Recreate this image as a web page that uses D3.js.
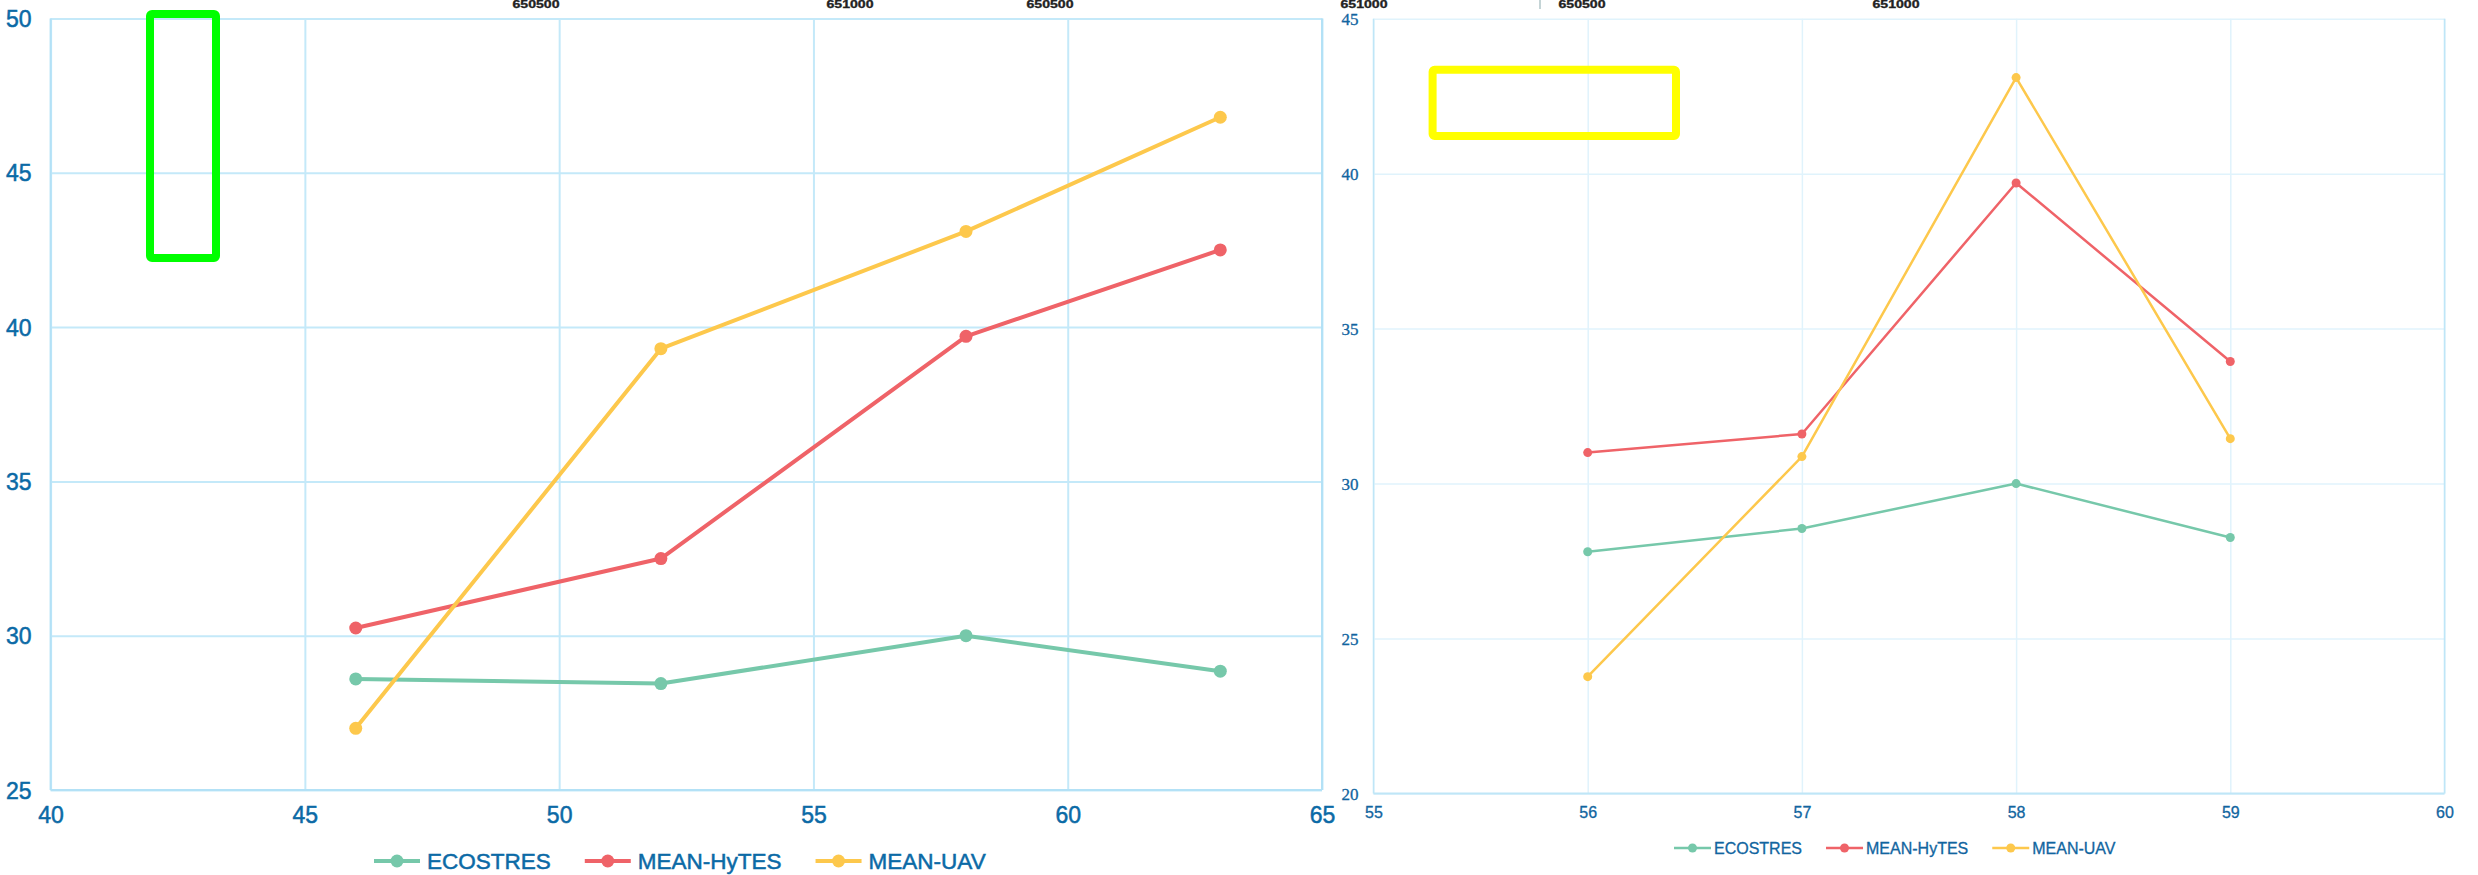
<!DOCTYPE html>
<html>
<head>
<meta charset="utf-8">
<script src="https://cdn.jsdelivr.net/npm/d3@7"></script>
<style>
  html, body { margin: 0; padding: 0; background: #ffffff; }
  svg { display: block; }
</style>
</head>
<body>
<svg id="chart" width="2478" height="875"></svg>
<script>
// ---- data ----
const seriesNames = ["ECOSTRES", "MEAN-HyTES", "MEAN-UAV"];
const seriesColors = ["#76c8aa", "#ef6368", "#fdc84c"];

// left panel
const leftX = [46, 52, 58, 63];
const leftEcostres = [28.6, 28.45, 30.0, 28.85];
const leftHytes = [30.25, 32.5, 39.7, 42.5];
const leftUav = [27.0, 39.3, 43.1, 46.8];
const leftXTicks = [40, 45, 50, 55, 60, 65];
const leftYTicks = [25, 30, 35, 40, 45, 50];

// right panel
const rightX = [56, 57, 58, 59];
const rightEcostres = [27.8, 28.55, 30.0, 28.26];
const rightHytes = [31.0, 31.6, 39.7, 33.94];
const rightUav = [23.77, 30.87, 43.1, 31.45];
const rightXTicks = [55, 56, 57, 58, 59, 60];
const rightYTicks = [20, 25, 30, 35, 40, 45];

// easting labels of the map strip along the top edge
const eastingLabels = [650500, 651000];

const svg = d3.select("#chart");
const intFmt = d3.format("d");

// ---- easting strip ----
const eastScale = d3.scaleLinear().domain([650500, 651000]).range([0, 314]);
const stripOrigins = [536, 1050, 1582];
stripOrigins.forEach(ox => {
  svg.append("g")
    .attr("transform", `translate(${ox},0)`)
    .selectAll("text")
    .data(eastingLabels)
    .join("text")
    .attr("x", d => eastScale(d))
    .attr("y", 7.6)
    .attr("text-anchor", "middle")
    .attr("textLength", 47)
    .attr("lengthAdjust", "spacingAndGlyphs")
    .style("font", "bold 10px 'Liberation Sans', Arial, sans-serif")
    .style("fill", "#222222")
    .style("stroke", "#222222")
    .style("stroke-width", 0.3)
    .text(d => d);
});
svg.append("line")
  .attr("x1", 1540).attr("x2", 1540).attr("y1", 0).attr("y2", 9)
  .attr("stroke", "#8aa9ad").attr("stroke-width", 1);

// ---- panel builder ----
function drawPanel(cfg) {
  const x = d3.scaleLinear().domain(cfg.xDomain).range([cfg.left, cfg.right]);
  const y = d3.scaleLinear().domain(cfg.yDomain).range([cfg.bottom, cfg.top]);
  const g = svg.append("g");

  // vertical grid
  g.append("g")
    .attr("transform", `translate(0,${cfg.bottom})`)
    .call(d3.axisBottom(x).tickValues(cfg.xTicks).tickSize(-(cfg.bottom - cfg.top)).tickFormat(""))
    .call(a => a.select(".domain").remove())
    .call(a => a.selectAll("line").attr("stroke", cfg.gridColor).attr("stroke-width", cfg.gridWidth));

  // horizontal grid
  g.append("g")
    .attr("transform", `translate(${cfg.left},0)`)
    .call(d3.axisLeft(y).tickValues(cfg.yTicks).tickSize(-(cfg.right - cfg.left)).tickFormat(""))
    .call(a => a.select(".domain").remove())
    .call(a => a.selectAll("line").attr("stroke", cfg.gridColor).attr("stroke-width", cfg.gridWidth));

  // frame edges
  g.append("line").attr("x1", cfg.left).attr("x2", cfg.right).attr("y1", cfg.bottom).attr("y2", cfg.bottom)
    .attr("stroke", cfg.axisColor).attr("stroke-width", 2);
  g.append("line").attr("x1", cfg.left).attr("x2", cfg.left).attr("y1", cfg.top).attr("y2", cfg.bottom)
    .attr("stroke", cfg.axisColor).attr("stroke-width", cfg.edgeWidth);
  g.append("line").attr("x1", cfg.right).attr("x2", cfg.right).attr("y1", cfg.top).attr("y2", cfg.bottom)
    .attr("stroke", cfg.axisColor).attr("stroke-width", cfg.edgeWidth);

  // y tick labels
  g.append("g")
    .attr("transform", `translate(${cfg.left},0)`)
    .call(d3.axisLeft(y).tickValues(cfg.yTicks).tickSize(0).tickPadding(cfg.yPad).tickFormat(intFmt))
    .call(a => a.select(".domain").remove())
    .call(a => a.selectAll("text")
      .attr("dy", "0.35em")
      .style("font", cfg.yFont)
      .style("fill", cfg.labelColor)
      .style("stroke", cfg.labelColor)
      .style("stroke-width", cfg.labelStroke));

  // x tick labels
  g.append("g")
    .attr("transform", `translate(0,${cfg.bottom})`)
    .call(d3.axisBottom(x).tickValues(cfg.xTicks).tickSize(0).tickFormat(intFmt))
    .call(a => a.select(".domain").remove())
    .call(a => a.selectAll("text")
      .attr("y", cfg.xLabelOffset)
      .attr("dy", "0.35em")
      .style("font", cfg.xFont)
      .style("fill", cfg.labelColor)
      .style("stroke", cfg.labelColor)
      .style("stroke-width", cfg.labelStroke));

  // series
  const line = d3.line().x(d => x(d[0])).y(d => y(d[1]));
  cfg.series.forEach((vals, i) => {
    const pts = cfg.xs.map((xv, k) => [xv, vals[k]]);
    g.append("path")
      .datum(pts)
      .attr("d", line)
      .attr("fill", "none")
      .attr("stroke", seriesColors[i])
      .attr("stroke-width", cfg.lineWidth)
      .attr("stroke-linejoin", "round");
    g.selectAll(null)
      .data(pts)
      .join("circle")
      .attr("cx", d => x(d[0]))
      .attr("cy", d => y(d[1]))
      .attr("r", cfg.markerR)
      .attr("fill", seriesColors[i]);
  });

  // legend
  const lg = g.append("g").attr("transform", `translate(0,${cfg.legendY})`);
  let cursor = cfg.legendX;
  seriesNames.forEach((name, i) => {
    lg.append("line")
      .attr("x1", cursor).attr("x2", cursor + cfg.legendLine)
      .attr("y1", 0).attr("y2", 0)
      .attr("stroke", seriesColors[i]).attr("stroke-width", cfg.lineWidth);
    lg.append("circle")
      .attr("cx", cursor + cfg.legendLine / 2).attr("cy", 0)
      .attr("r", cfg.markerR).attr("fill", seriesColors[i]);
    const t = lg.append("text")
      .attr("x", cursor + cfg.legendLine + cfg.legendTextGap)
      .attr("y", 0).attr("dy", "0.35em")
      .style("font", cfg.legendFont)
      .style("fill", cfg.labelColor)
      .style("stroke", cfg.labelColor)
      .style("stroke-width", cfg.labelStroke)
      .text(name);
    cursor += cfg.legendLine + cfg.legendTextGap + t.node().getComputedTextLength() + cfg.legendItemGap;
  });
}

drawPanel({
  xDomain: [40, 65], yDomain: [25, 50],
  left: 50.6, right: 1322, top: 18.5, bottom: 790,
  xTicks: leftXTicks, yTicks: leftYTicks,
  xs: leftX, series: [leftEcostres, leftHytes, leftUav],
  gridColor: "#c4e9f9", gridWidth: 2, axisColor: "#b3e1f6", edgeWidth: 2,
  labelColor: "#0b6aa6", labelStroke: 0.5,
  yFont: "23px 'Liberation Sans', Arial, sans-serif", yPad: 19,
  xFont: "23px 'Liberation Sans', Arial, sans-serif", xLabelOffset: 25,
  lineWidth: 4, markerR: 6.5,
  legendX: 374, legendY: 861, legendLine: 46, legendTextGap: 7, legendItemGap: 34,
  legendFont: "22.5px 'Liberation Sans', Arial, sans-serif"
});

drawPanel({
  xDomain: [55, 60], yDomain: [20, 45],
  left: 1373.5, right: 2444.5, top: 18.7, bottom: 793.5,
  xTicks: rightXTicks, yTicks: rightYTicks,
  xs: rightX, series: [rightEcostres, rightHytes, rightUav],
  gridColor: "#e0f3fc", gridWidth: 1.5, axisColor: "#bfe6f7", edgeWidth: 1.5,
  labelColor: "#11659f", labelStroke: 0.3,
  yFont: "17px 'Liberation Serif', 'Times New Roman', serif", yPad: 15,
  xFont: "16px 'Liberation Sans', Arial, sans-serif", xLabelOffset: 19,
  lineWidth: 2.5, markerR: 4.5,
  legendX: 1674, legendY: 848, legendLine: 37, legendTextGap: 3, legendItemGap: 24,
  legendFont: "16px 'Liberation Sans', Arial, sans-serif"
});

// highlight boxes
svg.append("rect")
  .attr("x", 150).attr("y", 14).attr("width", 66).attr("height", 244)
  .attr("rx", 2).attr("fill", "none")
  .attr("stroke", "#00ff00").attr("stroke-width", 8);
svg.append("rect")
  .attr("x", 1432.6).attr("y", 69.7).attr("width", 243.4).attr("height", 66.3)
  .attr("rx", 2).attr("fill", "none")
  .attr("stroke", "#ffff00").attr("stroke-width", 8);
</script>
</body>
</html>
